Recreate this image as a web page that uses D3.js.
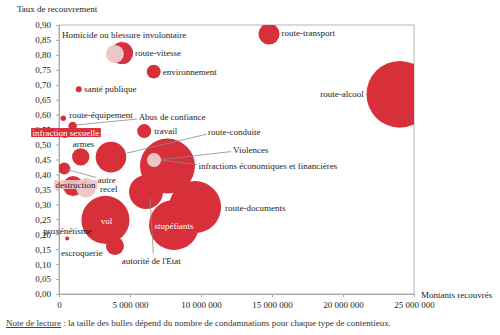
<!DOCTYPE html>
<html>
<head>
<meta charset="utf-8">
<script src="https://cdn.jsdelivr.net/npm/d3@7"></script>
<style>
  body { margin: 0; background: #fff; }
  svg text { font-family: "Liberation Serif", "DejaVu Serif", serif; fill: #1c1c1c; }
  .axis path, .axis line { stroke: #aaa; }
</style>
</head>
<body>
<div id="chart"></div>
<script>
// contentieux, montants recouvrés (euros), taux de recouvrement, nombre de condamnations
var categories = ["route-alcool", "infractions économiques et financières", "route-documents",
  "stupéfiants", "vol", "autorité de l'Etat", "route-conduite", "route-vitesse",
  "route-transport", "destruction", "recel", "Homicide ou blessure involontaire",
  "escroquerie", "armes", "environnement", "travail", "Violences", "autre",
  "infraction sexuelle", "Abus de confiance", "santé publique", "route-équipement", "proxénétisme"];
var montants = [24.0e6, 7.64e6, 9.58e6, 8.1e6, 3.27e6, 6.13e6, 3.66e6, 4.44e6,
  14.79e6, 0.99e6, 1.9e6, 3.94e6, 3.94e6, 1.53e6, 6.67e6, 6.0e6, 6.69e6, 0.37e6,
  0.42e6, 0.96e6, 1.39e6, 0.3e6, 0.58e6];
var taux = [0.668, 0.428, 0.291, 0.231, 0.248, 0.341, 0.458, 0.806,
  0.87, 0.361, 0.355, 0.803, 0.161, 0.459, 0.744, 0.545, 0.448, 0.42,
  0.539, 0.562, 0.685, 0.588, 0.186];
var condamnations = [150000, 102000, 91500, 84500, 78000, 39000, 31700, 16400,
  14900, 13500, 13000, 11000, 11000, 10200, 6600, 6600, 6600, 4900,
  3400, 2500, 1200, 1000, 540];
var xTicks = [0, 5e6, 10e6, 15e6, 20e6, 25e6];
var yTicks = d3.range(0, 0.901, 0.05);

// contentieux dessinés en rose pâle
var pale = ["Homicide ou blessure involontaire", "Violences", "recel"];

// placement des étiquettes par rapport au centre de la bulle
var labelAt = {
  "Homicide ou blessure involontaire": [-53, -19, "start"],
  "route-vitesse": [13, 0, "start"],
  "environnement": [9, 0, "start"],
  "santé publique": [5.5, 0, "start"],
  "route-transport": [12.5, -1.5, "start"],
  "route-alcool": [-36, 0, "end"],
  "route-équipement": [6, -3, "start"],
  "Abus de confiance": [66, -8.7, "start"],
  "infraction sexuelle": [1, -0.5, "middle", "box"],
  "travail": [10, 0, "start"],
  "armes": [-8, -13.4, "start"],
  "route-conduite": [97, -25.5, "start"],
  "Violences": [79, -10, "start"],
  "infractions économiques et financières": [31, 0, "start"],
  "autre": [33.4, 11.3, "start"],
  "destruction": [2.5, -1.7, "middle", "soft"],
  "recel": [14, 1.3, "start"],
  "route-documents": [30, 1.3, "start"],
  "vol": [1, 0.7, "middle", "white"],
  "stupéfiants": [0, 1, "middle", "white"],
  "proxénétisme": [-24, -7.6, "start"],
  "escroquerie": [-54, 7.3, "start"],
  "autorité de l'Etat": [-24.3, 68.3, "start"]
};
// traits de rappel : [x1, y1, x2, y2] relatifs au centre de la bulle
var leaders = {
  "Abus de confiance": [64.3, -7, 3.3, -1],
  "route-conduite": [96, -23, 16, -4],
  "Violences": [77, -8.5, 7, -0.5],
  "infractions économiques et financières": [29.5, -1.5, -6.5, -6],
  "autre": [31.7, 9, 2.7, 1],
  "autorité de l'Etat": [4, 6.3, 7.3, 61.3],
  "Homicide ou blessure involontaire": [6, -13, 8, -10]
};

var red = "#d7303a", pink = "#edc6c8";
var width = 500, height = 335;
var margin = {top: 25, right: 86, bottom: 41, left: 59};

var fr = d3.formatLocale({decimal: ",", thousands: "\u00a0", grouping: [3], currency: ["", " €"]});

var svg = d3.select("#chart").append("svg")
    .attr("width", width)
    .attr("height", height);

var x = d3.scaleLinear().domain([0, 25e6]).range([margin.left, width - margin.right]);
var y = d3.scaleLinear().domain([0, 0.9]).range([height - margin.bottom, margin.top]);
var r = d3.scaleSqrt().domain([0, 150000]).range([0, 33.3]);

var data = categories.map(function(c, i) {
  return {name: c, x: montants[i], y: taux[i], n: condamnations[i]};
});

// cadre
svg.append("rect")
    .attr("x", x(0)).attr("y", y(0.9))
    .attr("width", x(25e6) - x(0)).attr("height", y(0) - y(0.9))
    .attr("fill", "none").attr("stroke", "#b4b4b4");

svg.append("defs").append("clipPath")
    .attr("id", "clip")
  .append("rect")
    .attr("x", x(0)).attr("y", y(0.9))
    .attr("width", x(25e6) - x(0)).attr("height", y(0) - y(0.9));

svg.append("g")
    .attr("class", "axis")
    .attr("transform", "translate(" + x(0) + ",0)")
    .call(d3.axisLeft(y).tickValues(yTicks).tickSize(3).tickSizeOuter(0).tickPadding(5)
      .tickFormat(fr.format(".2f")))
    .call(function(g) { g.selectAll("text").attr("font-size", 9); });

svg.append("g")
    .attr("class", "axis")
    .attr("transform", "translate(0," + y(0) + ")")
    .call(d3.axisBottom(x).tickValues(xTicks).tickSize(3).tickSizeOuter(0).tickPadding(5)
      .tickFormat(fr.format(",.0f")))
    .call(function(g) { g.selectAll("text").attr("font-size", 9); });

svg.selectAll(".axis text").style("font-family", "'Liberation Serif', serif").attr("fill", "#1c1c1c");

// bulles
svg.append("g")
    .attr("clip-path", "url(#clip)")
  .selectAll("circle")
    .data(data)
  .enter().append("circle")
    .attr("cx", function(d) { return x(d.x); })
    .attr("cy", function(d) { return y(d.y); })
    .attr("r", function(d) { return r(d.n); })
    .attr("fill", function(d) { return pale.indexOf(d.name) >= 0 ? pink : red; });

// traits de rappel
svg.append("g")
  .selectAll("line")
    .data(data.filter(function(d) { return leaders[d.name]; }))
  .enter().append("line")
    .attr("x1", function(d) { return x(d.x) + leaders[d.name][0]; })
    .attr("y1", function(d) { return y(d.y) + leaders[d.name][1]; })
    .attr("x2", function(d) { return x(d.x) + leaders[d.name][2]; })
    .attr("y2", function(d) { return y(d.y) + leaders[d.name][3]; })
    .attr("stroke", "#8a8a8a")
    .attr("stroke-width", 0.8);

// étiquettes
var labels = svg.append("g").selectAll("g")
    .data(data)
  .enter().append("g");

labels.append("text")
    .attr("x", function(d) { return x(d.x) + labelAt[d.name][0]; })
    .attr("y", function(d) { return y(d.y) + labelAt[d.name][1]; })
    .attr("dy", "0.35em")
    .attr("font-size", 9)
    .attr("text-anchor", function(d) { return labelAt[d.name][2]; })
    .style("fill", function(d) {
      var s = labelAt[d.name][3];
      return (s === "white" || s === "box") ? "#fff" : "#1c1c1c";
    })
    .text(function(d) { return d.name; });

labels.filter(function(d) { var s = labelAt[d.name][3]; return s === "box" || s === "soft"; })
  .each(function(d) {
    var g = d3.select(this), b = g.select("text").node().getBBox();
    g.insert("rect", "text")
        .attr("x", b.x - 1.5).attr("y", b.y + 0.5)
        .attr("width", b.width + 3).attr("height", b.height - 1)
        .attr("fill", labelAt[d.name][3] === "box" ? red : pink)
        .attr("fill-opacity", labelAt[d.name][3] === "box" ? 1 : 0.9);
  });

// titres des axes
svg.append("text")
    .attr("x", 17).attr("y", 12)
    .attr("font-size", 9)
    .text("Taux de recouvrement");

svg.append("text")
    .attr("x", 421).attr("y", 298)
    .attr("font-size", 9)
    .text("Montants recouvrés");

var note = svg.append("text")
    .attr("x", 6).attr("y", 326)
    .attr("font-size", 9)
    .style("fill", "#333");
note.append("tspan")
    .attr("text-decoration", "underline")
    .text("Note de lecture");
note.append("tspan")
    .text(" : la taille des bulles dépend du nombre de condamnations pour chaque type de contentieux.");
</script>
</body>
</html>
